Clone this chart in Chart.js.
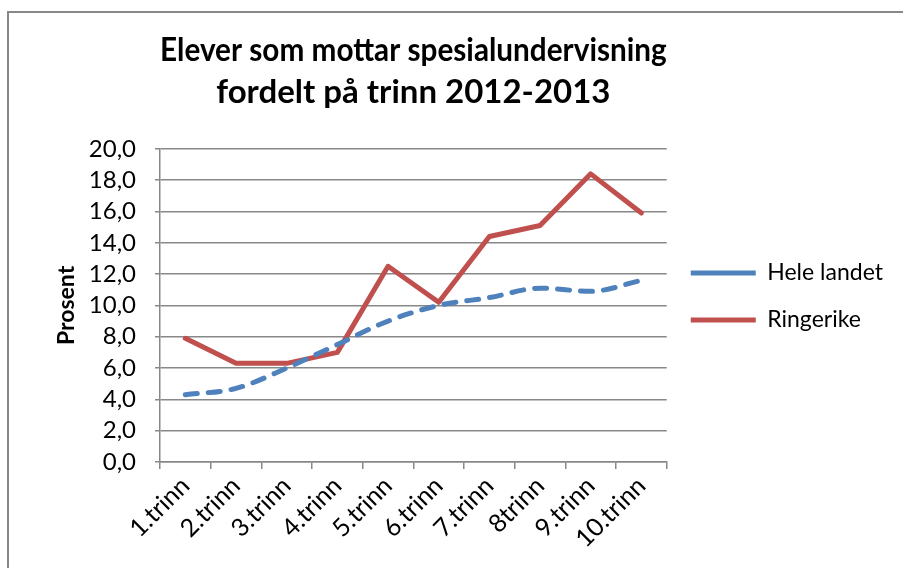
<!DOCTYPE html>
<html>
<head>
<meta charset="utf-8">
<script src="https://cdn.jsdelivr.net/npm/chart.js@4/dist/chart.umd.min.js"></script>
<style>
  html, body { margin: 0; padding: 0; background: #fff; }
  #wrap { width: 903px; height: 568px; }
</style>
</head>
<body>
<div id="wrap"><canvas id="c" width="903" height="568"></canvas></div>
<script>
// Data
const trinn = ['1.trinn', '2.trinn', '3.trinn', '4.trinn', '5.trinn', '6.trinn', '7.trinn', '8trinn', '9.trinn', '10.trinn'];
const heleLandet = [4.3, 4.7, 6.0, 7.5, 9.0, 10.0, 10.5, 11.1, 10.9, 11.6];
const ringerike = [7.9, 6.3, 6.3, 7.0, 12.5, 10.2, 14.4, 15.1, 18.4, 15.9];
const titleLines = ['Elever som mottar spesialundervisning', 'fordelt på trinn 2012-2013'];

const FONT = 'Lato, "Open Sans", sans-serif';
const grey = '#888888';

// ramme rundt hele diagrammet
const framePlugin = {
    id: 'frame',
    beforeDraw(chart) {
        const ctx = chart.ctx;
        ctx.save();
        ctx.strokeStyle = grey;
        ctx.lineWidth = 2;
        ctx.strokeRect(8, 12, 1000, 1000);
        ctx.restore();
    },
    // flytt forklaringen litt opp, som i originalen
    afterLayout(chart) {
        if (chart.legend) {
            chart.legend.top -= 9;
            chart.legend.bottom -= 9;
        }
    }
};

new Chart(document.getElementById('c'), {
    type: 'line',
    data: {
        labels: trinn,
        datasets: [{
            label: 'Hele landet',
            data: heleLandet,
            borderColor: '#4f81bd',
            backgroundColor: '#4f81bd',
            borderWidth: 5,
            borderDash: [12, 11],
            borderCapStyle: 'round',
            pointRadius: 0,
            tension: 0.3,
            cubicInterpolationMode: 'monotone'
        }, {
            label: 'Ringerike',
            data: ringerike,
            borderColor: '#c0504d',
            backgroundColor: '#c0504d',
            borderWidth: 5,
            borderCapStyle: 'round',
            borderJoinStyle: 'round',
            pointRadius: 0,
            tension: 0
        }]
    },
    options: {
        responsive: false,
        animation: false,
        layout: { padding: { left: 0, right: 14, top: 0, bottom: 0 } },
        plugins: {
            title: {
                display: true,
                fullSize: false,
                text: titleLines,
                color: '#000',
                font: { family: FONT, size: 33, weight: 'bold', lineHeight: 1.27 },
                padding: { top: 29, bottom: 36 }
            },
            legend: {
                position: 'right',
                fullSize: false,
                align: 'center',
                labels: {
                    color: '#000',
                    font: { family: FONT, size: 23 },
                    usePointStyle: true,
                    pointStyle: 'line',
                    pointStyleWidth: 65,
                    boxHeight: 24,
                    padding: 24
                }
            },
            tooltip: { enabled: false }
        },
        scales: {
            x: {
                offset: true,
                grid: {
                    offset: true,
                    drawOnChartArea: false,
                    color: grey,
                    lineWidth: 1.5,
                    tickLength: 7
                },
                border: { color: grey, width: 1.5 },
                ticks: {
                    color: '#000',
                    font: { family: FONT, size: 25 },
                    autoSkip: false,
                    maxRotation: 45,
                    minRotation: 45,
                    padding: 2
                },
                afterFit(scale) { scale.height = 106; }
            },
            y: {
                min: 0,
                max: 20,
                ticks: {
                    stepSize: 2,
                    autoSkip: false,
                    color: '#000',
                    font: { family: FONT, size: 24 },
                    padding: 19,
                    callback: v => v.toFixed(1).replace('.', ',')
                },
                grid: { color: grey, lineWidth: 1.5, tickLength: 5 },
                border: { color: grey, width: 1.5 },
                title: {
                    display: true,
                    text: 'Prosent',
                    color: '#000',
                    font: { family: FONT, size: 23, weight: 'bold' },
                    padding: { top: 53, bottom: 0 }
                },
                afterFit(scale) { scale.width = 160; }
            }
        }
    },
    plugins: [framePlugin]
});
</script>
</body>
</html>
